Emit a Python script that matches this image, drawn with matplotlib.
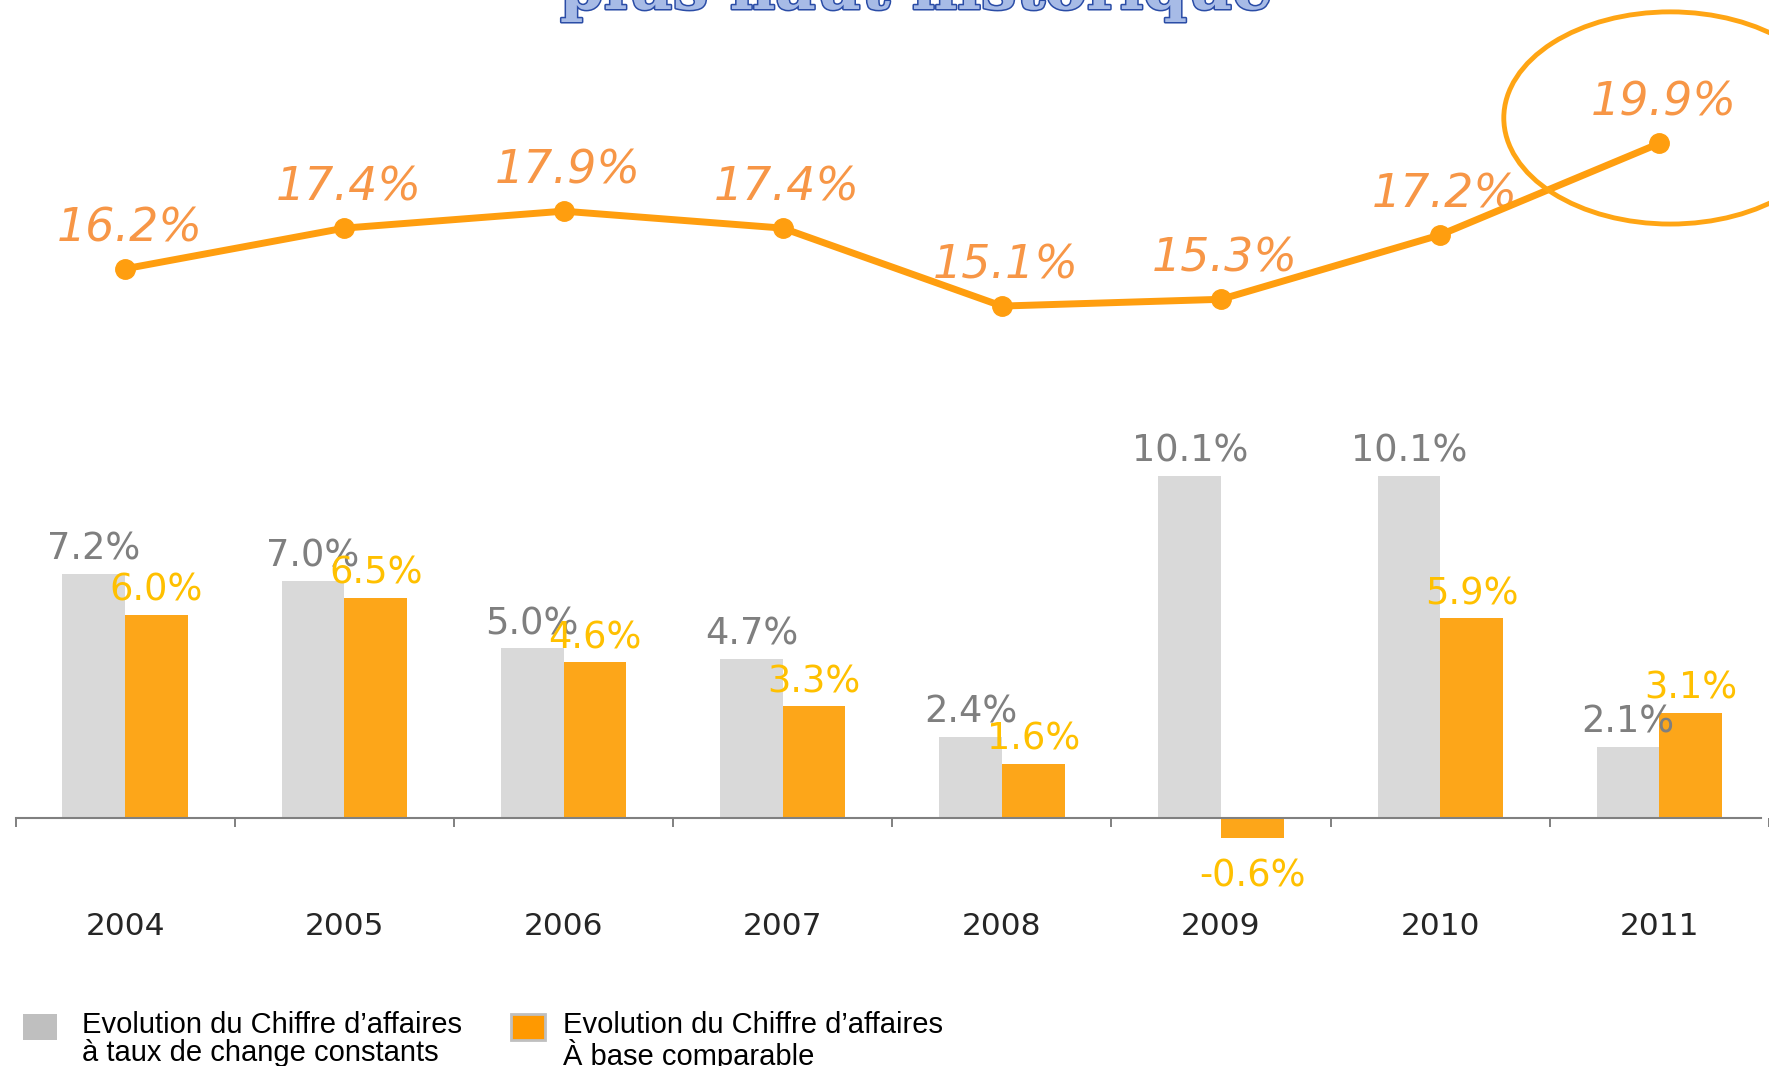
import numpy as np
import matplotlib
matplotlib.use('Agg')
import matplotlib.pyplot as plt
import matplotlib.patheffects as pe
from matplotlib.patches import Ellipse, Rectangle

years = ['2004', '2005', '2006', '2007', '2008', '2009', '2010', '2011']
marge = [16.2, 17.4, 17.9, 17.4, 15.1, 15.3, 17.2, 19.9]
ca_constant = [7.2, 7.0, 5.0, 4.7, 2.4, 10.1, 10.1, 2.1]
ca_comparable = [6.0, 6.5, 4.6, 3.3, 1.6, -0.6, 5.9, 3.1]

title = 'plus haut historique'
legend_labels = ['Evolution du Chiffre d\u2019affaires\n\u00e0 taux de change constants',
                 'Evolution du Chiffre d\u2019affaires\n\u00c0 base comparable']
legend_colors = ['#BFBFBF', '#FF9900']

gray = '#D9D9D9'
orange = '#FDA619'
line_col = '#FF9E0F'

W, H = 1769, 1066
fig = plt.figure(figsize=(W/100, H/100), dpi=100)
ax = fig.add_axes([0, 0, 1, 1])

x = np.arange(len(years))
w = 0.286

ax.bar(x - w/2, ca_constant, w, color=gray)
ax.bar(x + w/2, ca_comparable, w, color=orange)

for xi, v in zip(x, ca_constant):
    ax.annotate('%.1f%%' % v, (xi - w/2, v), xytext=(0, 10), textcoords='offset points',
                ha='center', va='baseline', fontsize=26.5, color='#7F7F7F')
for xi, v in zip(x, ca_comparable):
    if v >= 0:
        ax.annotate('%.1f%%' % v, (xi + w/2, v), xytext=(0, 10), textcoords='offset points',
                    ha='center', va='baseline', fontsize=26.5, color='#FFC000')
    else:
        ax.annotate('%.1f%%' % v, (xi + w/2, v), xytext=(0, -14), textcoords='offset points',
                    ha='center', va='top', fontsize=26.5, color='#FFC000')

ax.plot(x, marge, color=line_col, lw=5, marker='o', markersize=14, zorder=5)
for xi, v in zip(x, marge):
    ax.annotate('%.1f%%' % v, (xi, v), xytext=(3, 29), textcoords='offset points',
                ha='center', va='center', fontsize=33, style='italic', color='#F79646')

# highlight on the last year
ax.add_patch(Ellipse((x[-1] + 0.05, marge[-1] + 0.75), 1.52, 6.26, fill=False,
                     ec='#FFA514', lw=3.5, zorder=6))

for xi, y in zip(x, years):
    ax.text(xi, -3.2, y, ha='center', va='center', fontsize=22.5, color='#262626')

ax.set_xlim(-0.571, 7.463)
ax.set_ylim(-7.32, 24.13)
for s in ['top', 'left', 'right']:
    ax.spines[s].set_visible(False)
ax.spines['bottom'].set_position(('data', 0))
ax.spines['bottom'].set_bounds(-0.5, 7.463)
ax.spines['bottom'].set_color('#808080')
ax.spines['bottom'].set_linewidth(1.5)
ax.set_xticks(np.arange(len(years) + 1) - 0.5)
ax.set_xticklabels([])
ax.tick_params(axis='x', direction='out', length=6.5, width=1.4, color='#808080')
ax.set_yticks([])
ax.patch.set_alpha(0)

t = fig.text(916/W, 1 - 9/H, title, ha='center', va='baseline', fontsize=45,
             family='DejaVu Serif', weight='bold', color='#A7BBE6')
t.set_path_effects([pe.Stroke(linewidth=2.2, foreground='#2A4CA6'), pe.Normal()])

# legend: colour box next to a two line label
box_x = [23, 511]
text_x = [82, 563]
for bx, tx, c, lab in zip(box_x, text_x, legend_colors, legend_labels):
    ec = 'none' if c == '#BFBFBF' else '#BFBFBF'
    fig.add_artist(Rectangle((bx/W, 1 - 1040/H), 34/W, 26/H, transform=fig.transFigure,
                             fc=c, ec=ec, lw=2))
    fig.text(tx/W, 1 - 1011/H, lab, ha='left', va='top', fontsize=21,
             family='Liberation Sans', color='black', linespacing=1.0)

plt.savefig('out.png', dpi=100)
